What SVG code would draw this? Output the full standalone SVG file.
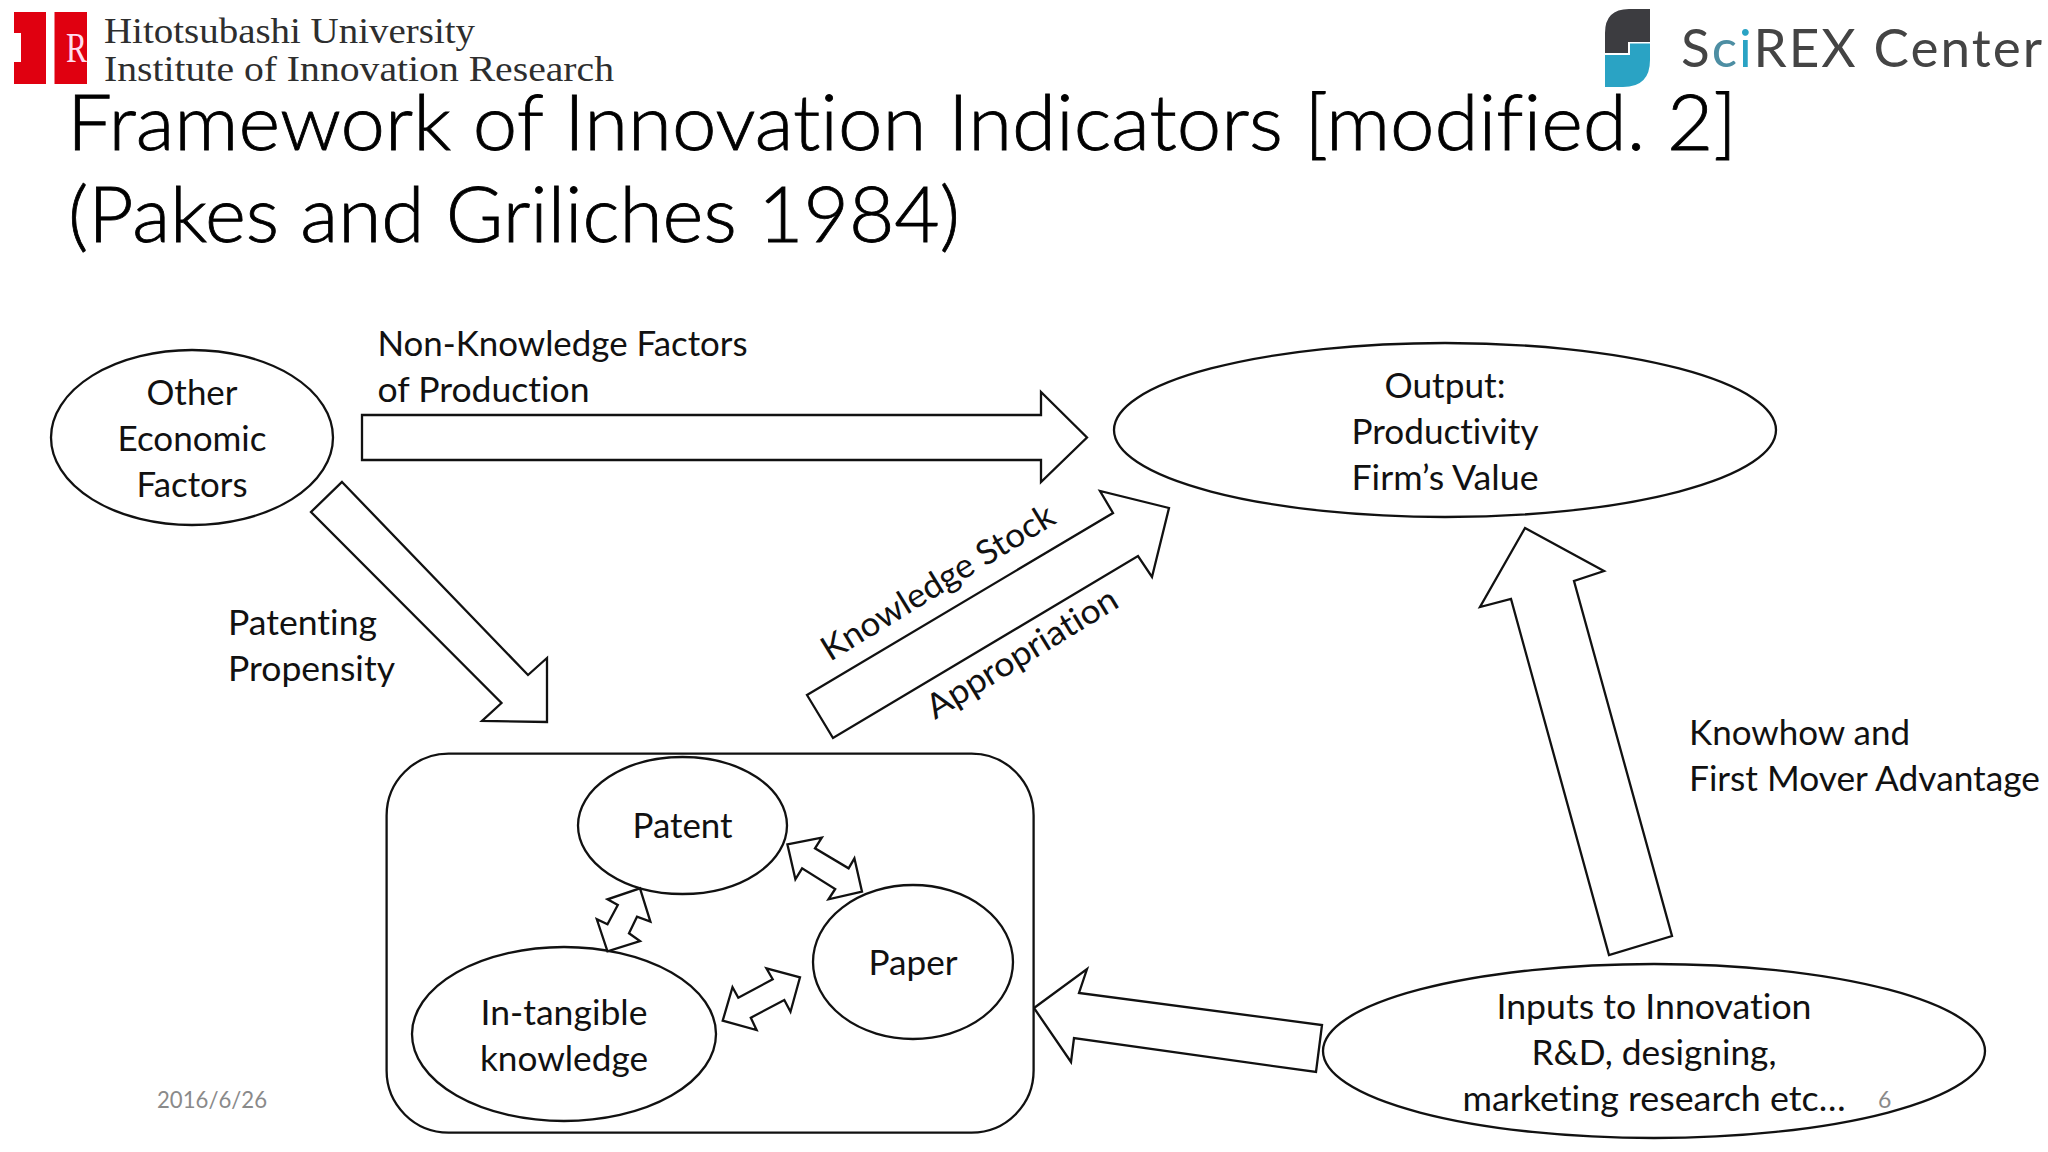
<svg xmlns="http://www.w3.org/2000/svg" width="2048" height="1152" viewBox="0 0 2048 1152">
<style>
text{font-family:"Lato","Carlito","Liberation Sans",sans-serif;fill:#111;font-variant-ligatures:none}
.t{font-size:76px;font-weight:300;fill:#000;stroke:#000;stroke-width:.8}
.l{font-size:34px}
.m{text-anchor:middle}
.s{fill:#fff;stroke:#111;stroke-width:2.3;stroke-linejoin:miter}
.g{font-size:23px;fill:#8a8a8a}
.h{font-family:"Liberation Serif",serif;font-size:35px;fill:#2e2e2e}
</style>
<rect width="2048" height="1152" fill="#fff"/>
<g id="logo-iir">
<rect x="14" y="12" width="32" height="72" fill="#e00010"/>
<rect x="54.500" y="12" width="32.500" height="72" fill="#e00010"/>
<rect x="14" y="33" width="7" height="29" fill="#fff"/>
<text x="66" y="62" style="font-family:'Liberation Serif',serif;font-size:42px;fill:#fde" textLength="21" lengthAdjust="spacingAndGlyphs">R</text>
<text class="h" x="104" y="43" textLength="371" lengthAdjust="spacingAndGlyphs">Hitotsubashi University</text>
<text class="h" x="104" y="81" textLength="510" lengthAdjust="spacingAndGlyphs">Institute of Innovation Research</text>
</g>
<g id="logo-scirex">
<path d="M1605,53V33Q1605,9 1629,9H1650V42H1628V53Z" fill="#3c3c40"/>
<path d="M1605,55H1630V43.500H1650V60Q1650,87 1623,87H1605Z" fill="#2aa3c4"/>
<text x="1681" y="67" style="font-size:53px;fill:#444;font-weight:400" textLength="361">S<tspan style="fill:#4d8ea3">c</tspan><tspan style="fill:#2aa3c4">i</tspan>REX Center</text>
</g>
<g id="title">
<text class="t" x="67" y="150" textLength="1670" lengthAdjust="spacingAndGlyphs">Framework of Innovation Indicators [modified. 2]</text>
<text class="t" x="68" y="242" textLength="892" lengthAdjust="spacingAndGlyphs">(Pakes and Griliches 1984)</text>
</g>
<g id="connectors">
<polygon class="s" points="362,415 1041,415 1041,392 1087,437.500 1041,482 1041,460 362,460"/>
<polygon class="s" points="342,482 528,675 547,658 547,722 482,721 501.500,703 311,512"/>
<polygon class="s" points="807,695 1113,513 1100,491 1169,508 1152,577 1138,556 833,738"/>
<polygon class="s" points="1034,1008 1087,969 1079,993 1322,1025 1316,1072 1074,1038 1071,1062"/>
<polygon class="s" points="1525,528 1604,571 1574,581 1672,936 1609,955 1511,599 1480,607"/>
</g>
<g id="node-knowledge-box">
<rect class="s" x="386.600" y="753.600" width="647" height="379" rx="62" ry="62"/>
</g>
<g id="node-other"><ellipse class="s" cx="192" cy="437.500" rx="141" ry="87.500"/>
<text class="l m" x="192" y="405" textLength="91" lengthAdjust="spacingAndGlyphs">Other</text>
<text class="l m" x="192" y="451" textLength="149" lengthAdjust="spacingAndGlyphs">Economic</text>
<text class="l m" x="192" y="497" textLength="111" lengthAdjust="spacingAndGlyphs">Factors</text></g>
<g id="node-output"><ellipse class="s" cx="1445" cy="430" rx="331" ry="87"/>
<text class="l m" x="1445" y="397.500" textLength="121" lengthAdjust="spacingAndGlyphs">Output:</text>
<text class="l m" x="1445" y="444" textLength="187" lengthAdjust="spacingAndGlyphs">Productivity</text>
<text class="l m" x="1445" y="490" textLength="187" lengthAdjust="spacingAndGlyphs">Firm’s Value</text></g>
<g id="node-patent"><ellipse class="s" cx="682.500" cy="825.500" rx="104.500" ry="68.500"/>
<text class="l m" x="682.500" y="838" textLength="100" lengthAdjust="spacingAndGlyphs">Patent</text></g>
<g id="node-paper"><ellipse class="s" cx="913" cy="962" rx="100" ry="77"/>
<text class="l m" x="913" y="975" textLength="89" lengthAdjust="spacingAndGlyphs">Paper</text></g>
<g id="node-intangible"><ellipse class="s" cx="564" cy="1034" rx="152" ry="87"/>
<text class="l m" x="564" y="1024.500" textLength="167" lengthAdjust="spacingAndGlyphs">In-tangible</text>
<text class="l m" x="564" y="1070.500" textLength="168" lengthAdjust="spacingAndGlyphs">knowledge</text></g>
<g id="node-inputs"><ellipse class="s" cx="1654" cy="1051" rx="331" ry="87"/>
<text class="l m" x="1654" y="1019" textLength="315" lengthAdjust="spacingAndGlyphs">Inputs to Innovation</text>
<text class="l m" x="1654" y="1065" textLength="245" lengthAdjust="spacingAndGlyphs">R&amp;D, designing,</text>
<text class="l m" x="1654" y="1111" textLength="383" lengthAdjust="spacingAndGlyphs">marketing research etc…</text></g>
<g id="small-arrows">
<polygon class="s" points="787.400,844.300 821.800,837.700 815,848.300 848.600,868.300 854.400,858.300 862,891.700 828.500,899.300 835.200,889 802.100,868.300 795.400,879.300"/>
<polygon class="s" points="640,888.300 650.400,921.700 637,916.700 629,933.300 640,941 607.500,951.300 596.800,919.300 607.500,924.300 617.800,905 607.500,899.300"/>
<polygon class="s" points="800,977.300 790.500,1011.700 784.300,1000 750.800,1017.700 756.600,1030 722.700,1020.700 732.500,987.300 738.300,997.700 772.700,979.300 766.400,968.300"/>
</g>
<g id="labels">
<text class="l" x="377.500" y="355.500" textLength="370" lengthAdjust="spacingAndGlyphs">Non-Knowledge Factors</text>
<text class="l" x="377.500" y="401.500" textLength="212" lengthAdjust="spacingAndGlyphs">of Production</text>
<text class="l" x="228" y="635" textLength="149" lengthAdjust="spacingAndGlyphs">Patenting</text>
<text class="l" x="228" y="681" textLength="167" lengthAdjust="spacingAndGlyphs">Propensity</text>
<text class="l" x="1689" y="745" textLength="221" lengthAdjust="spacingAndGlyphs">Knowhow and</text>
<text class="l" x="1689" y="791" textLength="351" lengthAdjust="spacingAndGlyphs">First Mover Advantage</text>
<text class="l" transform="translate(830,662) rotate(-31.500)" textLength="267" lengthAdjust="spacingAndGlyphs">Knowledge Stock</text>
<text class="l" transform="translate(935,720) rotate(-31.500)" textLength="218" lengthAdjust="spacingAndGlyphs">Appropriation</text>
</g>
<g id="footer">
<text class="g" x="157" y="1108" textLength="110" lengthAdjust="spacingAndGlyphs">2016/6/26</text>
<text class="g" x="1878" y="1108">6</text>
</g>
</svg>
